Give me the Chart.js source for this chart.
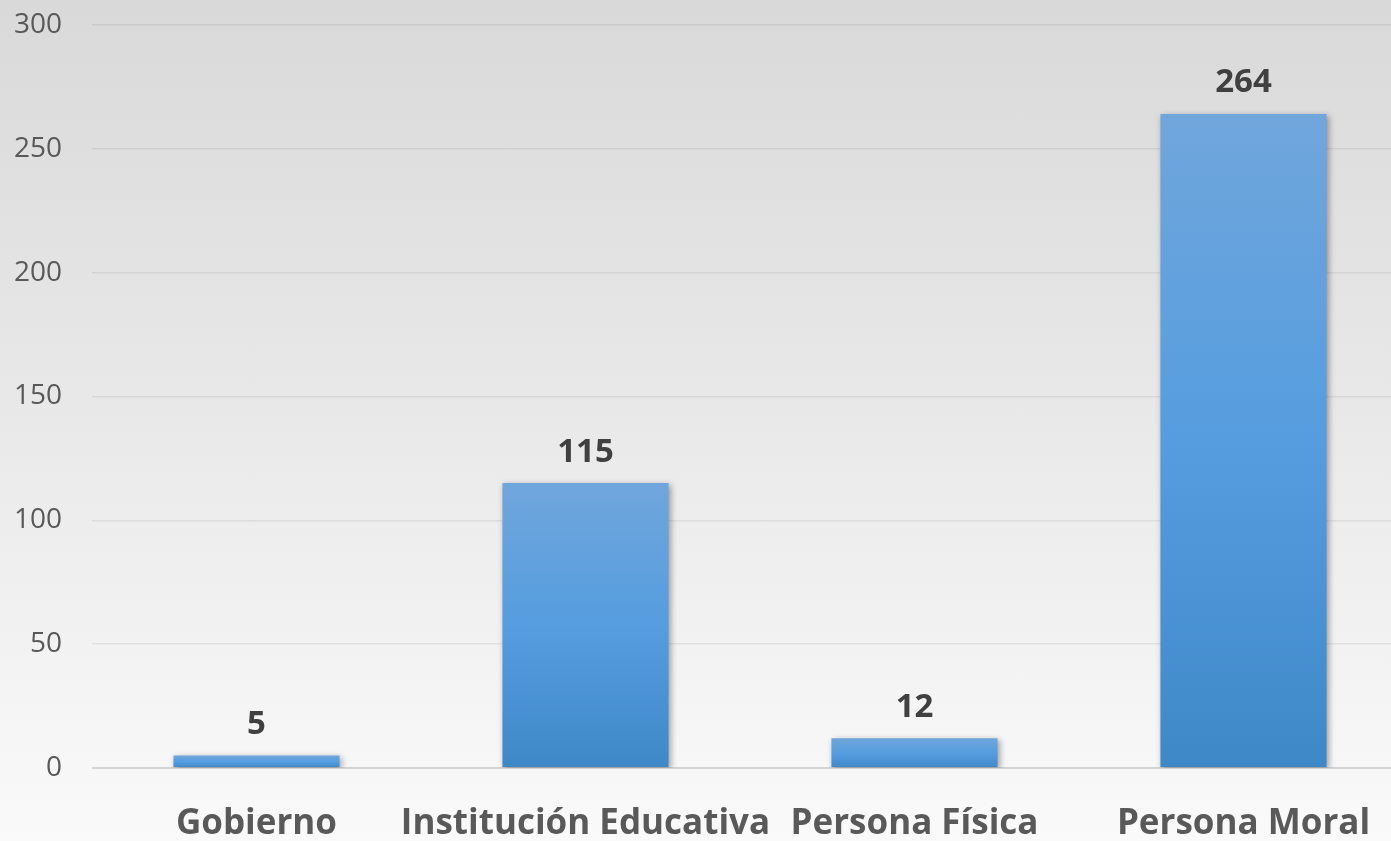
<!DOCTYPE html>
<html>
<head>
<meta charset="utf-8">
<script src="https://cdn.jsdelivr.net/npm/chart.js@4"></script>
<style>
    html, body {
        margin: 0;
        padding: 0;
        overflow: hidden;
        width: 1391px;
        height: 841px;
        background: linear-gradient(to bottom, #d9d9d9 0%, #e9e9e9 50%, #fafafa 100%);
    }
    canvas { display: block; margin-top: -22px; }
</style>
</head>
<body>
<canvas id="tipo-chart" width="1410" height="863"></canvas>
<script>
// Valori
const CATEGORIE = ['Gobierno', 'Institución Educativa', 'Persona Física', 'Persona Moral'];
const VALORI = [5, 115, 12, 264];
const Y_TICKS = [0, 50, 100, 150, 200, 250, 300];

const FONT = '"Open Sans", Lato, sans-serif';

// bar gradient from light top to darker bottom, per bar
function barGradient(context) {
    const chart = context.chart;
    if (!chart.chartArea || !chart.scales.y) return '#5b9bd5';
    const y = chart.scales.y;
    const top = y.getPixelForValue(context.raw);
    const base = y.getPixelForValue(0);
    if (!isFinite(top) || top === base) return '#5b9bd5';
    const g = chart.ctx.createLinearGradient(0, top, 0, base);
    g.addColorStop(0, '#70a6dc');
    g.addColorStop(0.5, '#559ddf');
    g.addColorStop(1, '#3f88c8');
    return g;
}

const barShadow = {
    id: 'barShadow',
    beforeDatasetsDraw(chart) {
        const ctx = chart.ctx;
        ctx.save();
        ctx.shadowColor = 'rgba(0, 0, 0, 0.35)';
        ctx.shadowBlur = 6;
        ctx.shadowOffsetX = 2;
        ctx.shadowOffsetY = 2;
    },
    afterDatasetsDraw(chart) {
        chart.ctx.restore();
    }
};

const valueLabels = {
    id: 'valueLabels',
    afterDraw(chart) {
        const ctx = chart.ctx;
        const meta = chart.getDatasetMeta(0);
        ctx.save();
        ctx.fillStyle = '#404040';
        ctx.font = 'bold 33px ' + FONT;
        ctx.textAlign = 'center';
        ctx.textBaseline = 'middle';
        meta.data.forEach((bar, i) => {
            ctx.fillText(String(VALORI[i]), bar.x, bar.y - 31);
        });
        ctx.restore();
    }
};

const canvas = document.getElementById('tipo-chart');

new Chart(canvas, {
    type: 'bar',
    data: {
        labels: CATEGORIE,
        datasets: [{
            data: VALORI,
            backgroundColor: barGradient,
            borderWidth: 0,
            barPercentage: 0.505,
            categoryPercentage: 1
        }]
    },
    options: {
        responsive: false,
        animation: false,
        layout: {
            padding: { top: 6, right: 2, left: 0, bottom: 0 }
        },
        plugins: {
            legend: { display: false },
            tooltip: { enabled: false },
            title: { display: false }
        },
        scales: {
            x: {
                grid: { display: false },
                border: { display: false },
                ticks: {
                    color: '#595959',
                    font: { family: FONT, size: 35, weight: 'bold' },
                    padding: 27,
                    maxRotation: 0,
                    autoSkip: false
                },
                afterFit: (scale) => { scale.height = 73; }
            },
            y: {
                min: 0,
                max: 300,
                afterBuildTicks: (scale) => {
                    scale.ticks = Y_TICKS.map(v => ({ value: v }));
                },
                grid: {
                    drawTicks: false,
                    color: (c) => c.tick && c.tick.value === 0 ? 'rgba(0, 0, 0, 0.14)' : 'rgba(0, 0, 0, 0.07)',
                    lineWidth: (c) => c.tick && c.tick.value === 0 ? 2 : 1.5
                },
                border: { display: false },
                ticks: {
                    color: '#595959',
                    font: { family: FONT, size: 28 },
                    padding: 30
                },
                afterFit: (scale) => { scale.width = 92; }
            }
        }
    },
    plugins: [barShadow, valueLabels]
});
</script>
</body>
</html>
